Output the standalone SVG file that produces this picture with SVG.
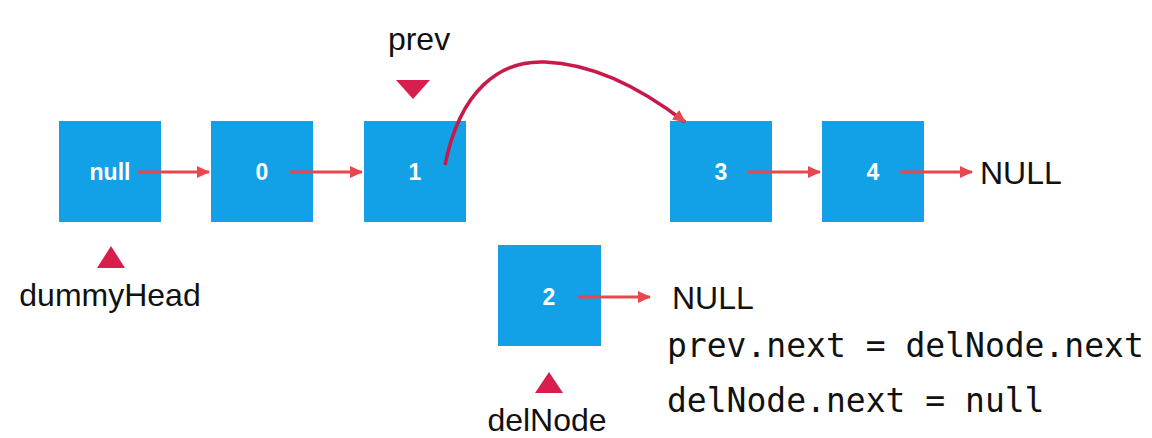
<svg xmlns="http://www.w3.org/2000/svg" width="1152" height="438" viewBox="0 0 1152 438">
<style>
.box{fill:#12a0e6}
.nt{fill:#fff;font-family:"Liberation Sans",Arial,sans-serif;font-weight:bold;font-size:23px;text-anchor:middle}
.lbl{fill:#111;font-family:"Liberation Sans",Arial,sans-serif;font-size:32px}
.code{fill:#111;font-family:"DejaVu Sans Mono",monospace;font-size:33px}
.ar{stroke:#e8474f;stroke-width:3;fill:none}
.tri{fill:#d81e4c}
</style>
<defs>
<marker id="ah2" markerWidth="14" markerHeight="14" refX="12" refY="7" orient="auto" markerUnits="userSpaceOnUse" viewBox="0 0 14 14"><path d="M0,1L13,7L0,13z" fill="#e8474f"/></marker>
</defs>
<g id="n-null"><rect class="box" x="59" y="121" width="102" height="101"/><text class="nt" x="110" y="180">null</text></g>
<g id="n-0"><rect class="box" x="211" y="121" width="102" height="101"/><text class="nt" x="262" y="180">0</text></g>
<g id="n-1"><rect class="box" x="364" y="121" width="102" height="101"/><text class="nt" x="415" y="180">1</text></g>
<g id="n-3"><rect class="box" x="670" y="121" width="102" height="101"/><text class="nt" x="721" y="180">3</text></g>
<g id="n-4"><rect class="box" x="822" y="121" width="102" height="101"/><text class="nt" x="873" y="180">4</text></g>
<g id="n-2"><rect class="box" x="498" y="245" width="103" height="101"/><text class="nt" x="549" y="305">2</text></g>
<g id="connectors">
<path class="ar" d="M138,172H209" marker-end="url(#ah2)"/>
<path class="ar" d="M290,172H362" marker-end="url(#ah2)"/>
<path class="ar" d="M748,172H820" marker-end="url(#ah2)"/>
<path class="ar" d="M900,172H972" marker-end="url(#ah2)"/>
<path class="ar" d="M578,297H650" marker-end="url(#ah2)"/>
<path d="M445,165C460,90 500,60 545,62C600,64 650,95 685,122" stroke="#c8194a" stroke-width="3.5" fill="none" marker-end="url(#ah2)"/>
</g>
<g id="labels">
<text class="lbl" x="419" y="50" text-anchor="middle">prev</text>
<path class="tri" d="M396,80H430L413,99z"/>
<path class="tri" d="M97,268H125L111,246z"/>
<text class="lbl" x="110" y="306" text-anchor="middle">dummyHead</text>
<path class="tri" d="M535,393H563L549,372z"/>
<text class="lbl" x="547" y="431" text-anchor="middle">delNode</text>
<text class="lbl" x="980" y="184">NULL</text>
<text class="lbl" x="672" y="309">NULL</text>
<text class="code" x="667" y="357">prev.next = delNode.next</text>
<text class="code" x="667" y="412">delNode.next = null</text>
</g>
</svg>
